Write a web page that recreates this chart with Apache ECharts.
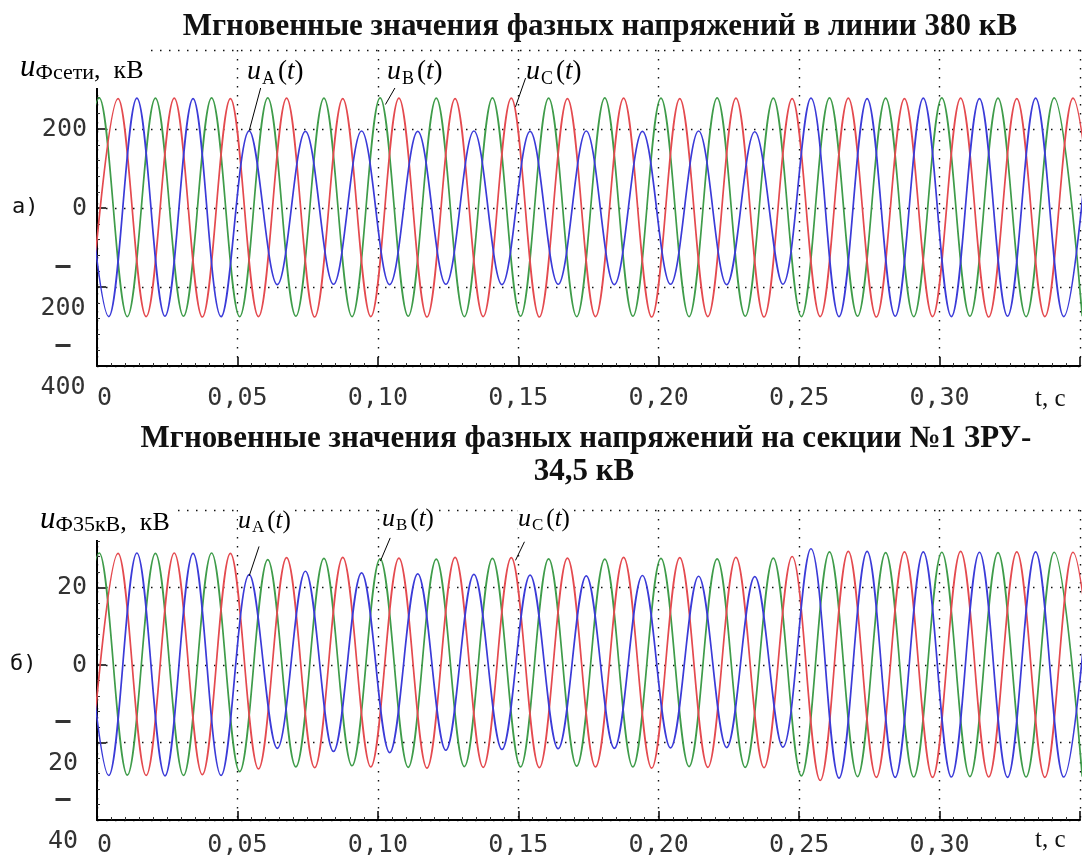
<!DOCTYPE html>
<html>
<head>
<meta charset="utf-8">
<script src="https://cdn.jsdelivr.net/npm/echarts@6/dist/echarts.min.js"></script>
<style>
  html, body { margin: 0; padding: 0; background: #fff; }
  #chart { width: 1083px; height: 858px; }
</style>
</head>
<body>
<div id="chart"></div>
<script>
// Phase voltages are stored as successive extrema (peak, trough, ...) one half cycle apart (50 Hz).
const halfCycle = 0.01; // s
// time of the first listed extremum of each phase, s
const firstExtremumTime = { A: -0.0058, B: -0.0092, C: -0.0025 };

// а) 380 kV line, kV
const lineA = [277, -275, 278, -274, 277, -275, 195, -194, 194, -193, 195, -194, 194, -193, 195, -194, 194, -193, 195,
  -194, 194, -193, 195, -194, 193, -193, 278, -275, 277, -274, 278, -275, 277, -274, 278, -275, 277];
const lineB = [-274, 279, -275, 278, -274, 279, -275, 279, -274, 278, -275, 279, -274, 278, -275, 279, -274, 278, -275,
  279, -274, 278, -275, 279, -274, 278, -275, 279, -274, 278, -275, 279, -274, 278, -275, 279, -274];
const lineC = [-276, 277, -275, 278, -276, 277, -275, 278, -276, 277, -275, 278, -276, 277, -275, 278, -276, 277, -275,
  278, -276, 277, -275, 278, -276, 277, -275, 278, -276, 277, -275, 278, -276, 277, -275, 278, -276];

// б) 34.5 kV switchgear, section №1, kV
const busA = [28.6, -28.5, 28.9, -28.6, 28.8, -28.5, 23.3, -21.5, 24.2, -22.3, 23.8, -22.6, 23.5, -22.0, 23.4, -21.8,
  23.2, -21.6, 23.0, -21.5, 23.1, -21.4, 22.9, -21.3, 22.8, -21.2, 30.0, -29.2, 29.3, -29.0, 29.2, -28.9, 29.1, -29.0,
  29.2, -28.9, 29.1];
const busB = [-28.3, 28.9, -28.4, 28.8, -28.5, 28.9, -27.5, 27.2, -26.3, 27.5, -26.0, 27.4, -26.4, 27.3, -26.2, 27.5,
  -26.3, 27.4, -26.1, 27.3, -26.3, 27.5, -26.2, 27.4, -26.4, 27.6, -28.6, 29.2, -28.8, 29.0, -28.9, 29.1, -28.8, 29.0,
  -28.9, 29.1, -28.8];
const busC = [-28.4, 28.8, -28.5, 28.9, -28.3, 28.8, -26.8, 27.7, -26.5, 27.8, -26.3, 27.6, -26.6, 27.8, -26.4, 27.7,
  -26.5, 27.6, -26.3, 27.8, -26.6, 27.7, -26.4, 27.8, -26.5, 28.0, -29.8, 29.3, -29.0, 29.2, -29.0, 29.3, -28.9, 29.2,
  -29.0, 29.1, -28.9];

// axis ticks
const timeTicks = [0, 0.05, 0.10, 0.15, 0.20, 0.25, 0.30];
const lineTicks = [-400, -200, 0, 200];
const busTicks = [-40, -20, 0, 20];

// leader lines from the phase labels to the curves: [t, u] pairs
const lineLeaders = [[[0.0588, 318], [0.0542, 196]], [[0.1073, 319], [0.1027, 262]], [[0.1526, 329], [0.1490, 256]]];
const busLeaders = [[[0.0577, 30.6], [0.0542, 23.0]], [[0.1044, 32.8], [0.1009, 26.8]], [[0.1522, 31.8], [0.1490, 27.0]]];

const colors = { A: '#3b3bd8', B: '#3f9c4a', C: '#e44a4f' };
const labelFont = '"DejaVu Sans Mono", monospace';
const serif = '"Liberation Serif", "Times New Roman", serif';

function toPoints(t0, values) {
  return values.map((v, i) => [+(t0 + i * halfCycle).toFixed(4), v]);
}

function timeLabel(v) {
  const hit = timeTicks.find(t => Math.abs(t - v) < 1e-9);
  if (hit === undefined) return '';
  return hit === 0 ? '0' : hit.toFixed(2).replace('.', ',');
}

function yLabel(ticks) {
  return function (v) {
    if (!ticks.some(t => Math.abs(t - v) < 1e-9)) return '';
    if (v < 0) return '{d|–}\n{n|' + Math.round(-v) + '}';
    return '{p|' + Math.round(v) + '}';
  };
}

const dotted = { color: '#111', width: 1.4, type: [1.5, 7.5] };

function xAxisCfg(gridIndex, margin) {
  return {
    type: 'value', gridIndex, min: 0, max: 0.35, interval: 0.05,
    axisLine: { show: true, onZero: false, lineStyle: { color: '#000', width: 2 } },
    axisTick: { show: true, inside: true, length: 9, lineStyle: { color: '#000', width: 1.5 } },
    minorTick: { show: true, splitNumber: 10, length: 3, lineStyle: { color: '#333', width: 1 } },
    splitLine: { show: true, lineStyle: dotted },
    axisLabel: {
      formatter: timeLabel, margin, fontFamily: labelFont, fontSize: 25, color: '#333',
      alignMinLabel: 'left'
    }
  };
}

function yAxisCfg(gridIndex, min, max, interval, ticks, lh) {
  const base = { fontFamily: labelFont, fontSize: 25, color: '#333' };
  return {
    type: 'value', gridIndex, min, max, interval,
    axisLine: { show: true, onZero: false, lineStyle: { color: '#000', width: 2 } },
    axisTick: { show: true, inside: true, length: 9, lineStyle: { color: '#000', width: 1.5 } },
    minorTick: { show: true, splitNumber: 5, length: 3, lineStyle: { color: '#333', width: 1 } },
    splitLine: { show: true, lineStyle: dotted },
    axisLabel: {
      formatter: yLabel(ticks), margin: 10, color: '#333',
      rich: {
        p: Object.assign({}, base),
        d: Object.assign({ width: 48, align: 'center', lineHeight: lh }, base, { fontWeight: 'bold' }),
        n: Object.assign({ width: 48, align: 'center', lineHeight: lh }, base)
      }
    }
  };
}

function phaseSeries(gridIndex, key, values, leaders) {
  const s = {
    type: 'line', xAxisIndex: gridIndex, yAxisIndex: gridIndex,
    data: toPoints(firstExtremumTime[key], values),
    smooth: 0.36, showSymbol: false, clip: true, animation: false,
    lineStyle: { color: colors[key], width: 1.7 },
    z: 2
  };
  if (leaders) {
    s.markLine = {
      silent: true, animation: false, symbol: ['none', 'none'],
      label: { show: false },
      lineStyle: { color: '#000', width: 1, type: 'solid' },
      data: leaders.map(p => [{ coord: p[0] }, { coord: p[1] }])
    };
  }
  return s;
}

const labelRich = (size, sub) => ({
  u: { fontFamily: serif, fontStyle: 'italic', fontSize: size, color: '#111', lineHeight: size + 4 },
  s: { fontFamily: serif, fontSize: sub, color: '#111', verticalAlign: 'bottom', lineHeight: sub, padding: [0, 3, 0, 1] },
  p: { fontFamily: serif, fontSize: size - 1, color: '#111' },
  t: { fontFamily: serif, fontStyle: 'italic', fontSize: size - 1, color: '#111' }
});

function phaseLabel(x, y, phase, size, sub) {
  return {
    type: 'text', left: x, top: y, z: 10,
    style: {
      text: '{u|u}{s|' + phase + '}{p|(}{t|t}{p|)}',
      rich: labelRich(size, sub), backgroundColor: '#fff'
    }
  };
}

function axisName(x, y, sub, padTop) {
  return {
    type: 'text', left: x, top: y, z: 10,
    style: {
      text: '{u|u}{s|' + sub + '}{k|,  кВ}',
      backgroundColor: '#fff', padding: [padTop, 4, 4, 2],
      rich: {
        u: { fontFamily: serif, fontStyle: 'italic', fontSize: 31, color: '#111', lineHeight: 32 },
        s: { fontFamily: serif, fontSize: 22, color: '#111', verticalAlign: 'bottom', lineHeight: 22 },
        k: { fontFamily: serif, fontSize: 26, color: '#111', verticalAlign: 'bottom', lineHeight: 28 }
      }
    }
  };
}

const plainText = (x, y, text, font, size) => ({
  type: 'text', left: x, top: y, z: 10,
  style: { text, fontFamily: font, fontSize: size, fill: '#111' }
});

const titleText = (x, y, text) => ({
  type: 'text', x, y, z: 10,
  style: { text, fontFamily: serif, fontSize: 31, fontWeight: 'bold', fill: '#111', align: 'center', verticalAlign: 'middle' }
});

const chart = echarts.init(document.getElementById('chart'), null, { renderer: 'canvas' });
chart.setOption({
  backgroundColor: '#fff',
  animation: false,
  grid: [
    { left: 97, right: -3, top: 50, height: 316 },
    { left: 97, right: -3, top: 510, height: 312 }
  ],
  xAxis: [xAxisCfg(0, 20), xAxisCfg(1, 13)],
  yAxis: [yAxisCfg(0, -400, 400, 200, lineTicks, 42), yAxisCfg(1, -40, 40, 20, busTicks, 42)],
  series: [
    phaseSeries(0, 'B', lineB),
    phaseSeries(0, 'C', lineC),
    phaseSeries(0, 'A', lineA, lineLeaders),
    phaseSeries(1, 'B', busB),
    phaseSeries(1, 'C', busC),
    phaseSeries(1, 'A', busA, busLeaders)
  ],
  graphic: [
    titleText(600, 27, 'Мгновенные значения фазных напряжений в линии 380 кВ'),
    titleText(586, 439, 'Мгновенные значения фазных напряжений на секции №1 ЗРУ-'),
    titleText(584, 472, '34,5 кВ'),
    axisName(18, 44, 'Фсети', 8),
    axisName(38, 502, 'Ф35кВ', 2),
    plainText(12, 196, 'а)', labelFont, 22),
    plainText(10, 653, 'б)', labelFont, 22),
    plainText(1035, 387, 't, с', serif, 25),
    plainText(1035, 828, 't, с', serif, 25),
    phaseLabel(247, 56, 'A', 28, 18),
    phaseLabel(387, 56, 'B', 28, 18),
    phaseLabel(526, 56, 'C', 28, 18),
    phaseLabel(238, 506, 'A', 26, 17),
    phaseLabel(382, 504, 'B', 26, 17),
    phaseLabel(518, 504, 'C', 26, 17)
  ]
});
</script>
</body>
</html>
